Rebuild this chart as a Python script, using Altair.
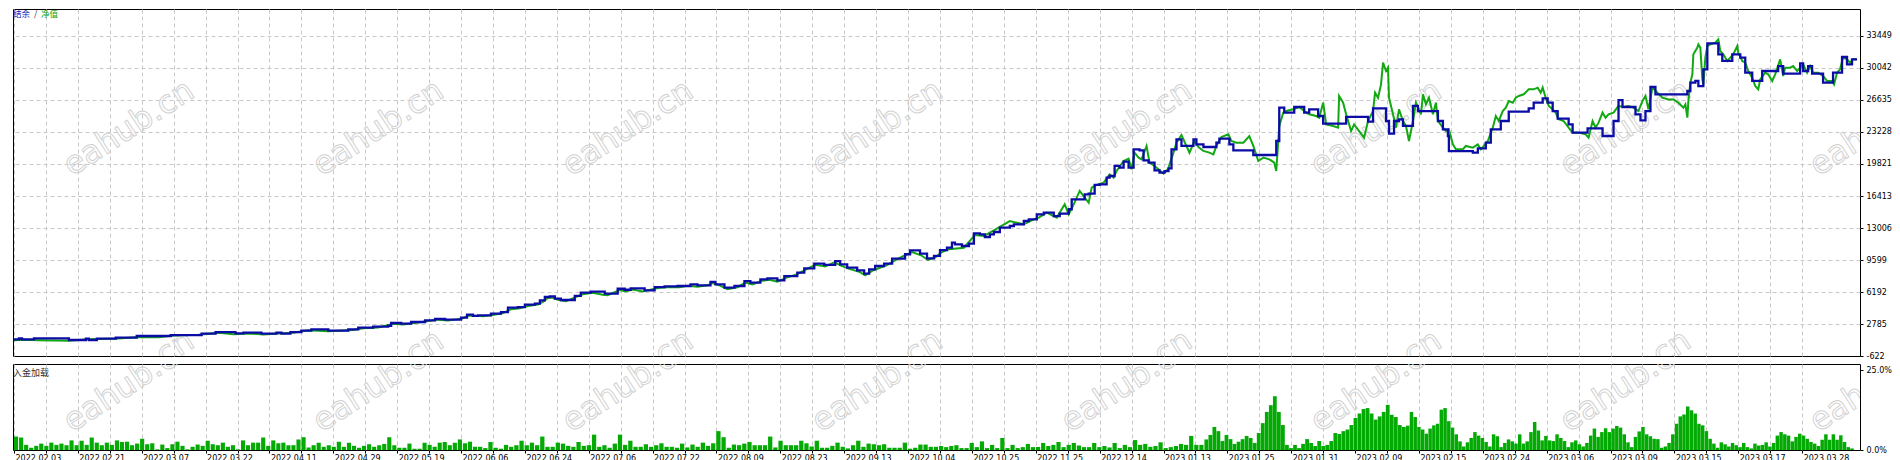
import altair as alt
import pandas as pd

# ---------------- data ----------------
DATE_LABELS = ["2022.02.03", "2022.02.21", "2022.03.07", "2022.03.22", "2022.04.11", "2022.04.29",
               "2022.05.19", "2022.06.06", "2022.06.24", "2022.07.06", "2022.07.22", "2022.08.09",
               "2022.08.23", "2022.09.13", "2022.10.04", "2022.10.25", "2022.11.25", "2022.12.14",
               "2023.01.13", "2023.01.25", "2023.01.31", "2023.02.09", "2023.02.15", "2023.02.24",
               "2023.03.06", "2023.03.09", "2023.03.15", "2023.03.17", "2023.03.28"]
LABEL_STEP = 64          # deals between two date labels
GRID_STEP = 32           # deals between two vertical grid lines
Y_TICKS = [-622, 2785, 6192, 9599, 13006, 16413, 19821, 23228, 26635, 30042, 33449]
LOAD_TICKS = [0, 25]

BAL_DEAL = [0, 5, 8, 20, 55, 72, 75, 83, 102, 123, 157, 188, 202, 222, 230, 248, 263, 268, 277, 288,
            298, 315, 335, 345, 360, 375, 378, 388, 398, 412, 422, 432, 448, 454, 460,
            465, 478, 488, 495, 505, 512, 522, 527, 532, 537, 542, 548, 562, 568, 578, 592, 605, 612, 618, 632,
            642, 652, 665, 678, 685, 698, 703, 712, 722, 732, 738, 748, 755, 765, 772, 785, 792, 802, 812, 823,
            828, 835, 845, 852, 857, 863, 872, 880, 893, 898, 908, 915, 922, 928, 935,
            940, 943, 950, 957, 962, 968, 973, 978, 982, 988, 998, 1002, 1012, 1017, 1025, 1032, 1042, 1048, 1057, 1060,
            1073, 1077, 1083, 1088, 1095, 1098, 1103, 1108, 1112, 1117, 1122, 1128, 1132, 1137, 1143, 1148, 1153, 1157,
            1160, 1165, 1170, 1182, 1185, 1192, 1205, 1208, 1218, 1222, 1242, 1265, 1268, 1273, 1283, 1293, 1298, 1307,
            1312, 1335, 1357, 1362, 1375, 1378, 1383, 1388, 1392,
            1402, 1407, 1427, 1432, 1437, 1438, 1462, 1467, 1475, 1480, 1490, 1498, 1518, 1523, 1532, 1537, 1542, 1547,
            1558, 1562, 1577, 1592, 1603, 1608, 1612, 1625, 1630, 1635, 1640, 1645, 1677, 1680, 1685, 1688, 1693, 1697,
            1708, 1712, 1722, 1730, 1735, 1742, 1752, 1768, 1773, 1790, 1793, 1798, 1802, 1813, 1823, 1832, 1837, 1842, 1847]
BAL_VALUE = [1150, 1260, 1150, 1260, 1080, 1220, 1080, 1220, 1330, 1510, 1610, 1760, 1930, 1790, 1860, 1760, 1860, 1760, 1930, 2075,
             2220, 2075, 2220, 2390, 2500, 2600, 2890, 2820, 3000, 3180, 3320, 3250, 3460, 3780, 3640,
             3710, 3880, 4060, 4520, 4590, 4840, 4950, 5310, 5660, 5730, 5480, 5340, 5770, 6120, 6230, 6010, 6540, 6430, 6580, 6370,
             6720, 6800, 6830, 7010, 6900, 7260, 7010, 6650, 6830, 7360, 7180, 7540, 7650, 7430, 7890, 8250, 8710, 9210, 9070, 9490,
             9140, 8780, 8500, 8140, 8610, 8960, 9210, 9740, 10210, 10630, 10270, 9780, 10030, 10660, 10910,
             11440, 11270, 11090, 11340, 12440, 12330, 12050, 12330, 12580, 13040, 13220, 13400, 13750, 13930, 14460, 14640, 14280, 14530, 15000, 16060,
             16590, 16660, 17590, 17660, 18370, 18540, 19610, 19430, 20070, 19430, 21380, 21270, 20210, 19960, 19150, 18900, 19070, 19360,
             21380, 22450, 21740, 22450, 21920, 21630, 22090, 22520, 21920, 21270, 20780, 22270, 25820, 25290, 25890, 25290, 25640, 24930,
             24110, 24830, 24330, 25750, 24400, 23050, 24400, 24580, 23870,
             26000, 25460, 24400, 23510, 22800, 21200, 21030, 21490, 22090, 23510, 24400, 25390, 25750, 26350, 26810, 26350, 25460, 24650,
             24040, 23160, 23620, 22800, 24400, 26630, 25890, 25110, 24470, 25460, 28020, 27240, 27590, 28480, 28660, 28120, 29900, 32670,
             31500, 30790, 31500, 31140, 29540, 28660, 29720, 30250, 29440, 30540, 29720, 30250, 29440, 28480, 29540, 31210, 30430, 30960, 30960]

EQ_DEAL = [0, 10, 25, 55, 75, 105, 125, 145, 160, 185, 205, 220, 235, 250, 265, 280, 295, 315, 340, 350,
           365, 380, 390, 405, 415, 425, 435, 450, 455, 465,
           470, 480, 490, 498, 507, 515, 525, 530, 535, 540, 545, 553, 563, 570, 580, 590, 595, 607, 613, 620,
           630, 640, 647, 655, 667, 675, 685, 695, 700, 707, 715, 725, 733, 740, 750, 757, 765, 775, 785, 793,
           803, 813, 822, 830, 837, 847, 853, 860, 867, 875, 883, 891, 900, 909, 916, 923, 930, 937,
           952, 963, 972, 982, 998, 1012, 1022, 1027, 1035, 1045, 1053, 1057, 1062, 1068, 1073, 1077, 1080, 1085,
           1092, 1098, 1102, 1105, 1112, 1117, 1120, 1123, 1127, 1130, 1135, 1138, 1143, 1147, 1152, 1157, 1158,
           1162, 1165, 1170, 1175, 1178, 1183, 1187, 1192, 1198, 1202, 1205, 1210, 1217, 1220, 1225, 1232, 1238,
           1242, 1247, 1252, 1258, 1263, 1265, 1267, 1268, 1272, 1275, 1282, 1288, 1293, 1298, 1305, 1308, 1312,
           1315, 1322, 1327, 1328, 1332, 1335, 1340, 1343, 1348, 1353, 1357, 1362, 1364, 1367, 1370, 1372, 1375,
           1377, 1378, 1382, 1385, 1388, 1392, 1395,
           1398, 1402, 1405, 1410, 1412, 1415, 1418, 1422, 1425, 1427, 1432, 1435, 1438, 1442, 1445, 1452, 1455,
           1462, 1467, 1470, 1473, 1477, 1482, 1485, 1488, 1492, 1495, 1498, 1502, 1505, 1508, 1513, 1518, 1523,
           1527, 1530, 1532, 1535, 1538, 1542, 1545, 1548, 1553, 1558, 1562, 1568, 1575, 1578, 1582, 1585, 1588,
           1592, 1595, 1598, 1603, 1608, 1613, 1618, 1623, 1628, 1632, 1635, 1638, 1642, 1647, 1652, 1658, 1663,
           1668, 1673, 1675, 1677, 1678, 1680, 1682, 1683, 1687, 1688, 1690, 1692, 1693, 1695, 1697, 1700, 1705,
           1708, 1710, 1713, 1717, 1720, 1723, 1727, 1728, 1732, 1735, 1738, 1742, 1745, 1748, 1750, 1755, 1758,
           1762, 1765, 1770, 1773, 1775, 1780, 1783, 1787, 1790, 1793, 1797, 1800, 1803, 1808, 1813, 1817, 1822,
           1824, 1827, 1830, 1833, 1837, 1840, 1843, 1847]
EQ_VALUE = [1050, 1100, 1050, 1000, 1150, 1250, 1400, 1380, 1550, 1650, 1850, 1700, 1780, 1680, 1780, 1850, 2130, 2000, 2150, 2330,
            2420, 2800, 2740, 2950, 3100, 3250, 3160, 3380, 3700, 3650,
            3600, 3750, 3950, 4350, 4450, 4700, 4850, 5150, 5550, 5600, 5350, 5200, 5650, 5950, 6100, 5900, 5850, 6400, 6250, 6450,
            6250, 6500, 6650, 6700, 6700, 6850, 6750, 6900, 7150, 6900, 6500, 6700, 7200, 7000, 7400, 7500, 7300, 7750, 8100, 8550,
            9100, 8900, 9350, 8950, 8650, 8350, 7970, 8450, 8750, 9050, 9550, 10000, 10450, 10100, 9600, 9850, 10450, 10750,
            10910, 12260, 12160, 12760, 13750, 13400, 13930, 14110, 14640, 14110, 15530, 14460, 15530, 16950, 16240, 15700, 17300, 17590,
            17830, 18720, 18370, 19080, 20140, 20390, 19250, 21030, 20500, 20320, 21740, 19960, 19610, 19250, 18790, 19360, 19790,
            21030, 22090, 22910, 21740, 21030, 22270, 21630, 21210, 21030, 20850, 21740, 22700, 22980, 22270, 22090, 22090, 22800,
            21740, 20140, 20500, 20320, 19960, 19080, 22270, 23870, 25290, 25460, 25640, 25890, 25460, 25110, 24930, 24750, 26350,
            24040, 23870, 23690, 27060, 26350, 25110, 23330, 24040, 23330, 22620, 24400, 25460, 27420, 26880, 28300, 30610, 29720,
            30080, 26880, 25110, 23690, 25640, 24400, 23870,
            22270, 24400, 26350, 25110, 27240, 26170, 26880, 25110, 26350, 24400, 23690, 23330, 23510, 21910, 21380, 21380, 21740,
            21560, 21910, 21380, 21740, 22270, 23690, 24930, 24400, 25460, 25820, 26530, 26350, 26880, 27060, 27240, 27770, 27770,
            27950, 27410, 27950, 26880, 26000, 25640, 25290, 24580, 24400, 23690, 23160, 23160, 22980, 22620, 24400, 23690, 24220,
            25290, 24750, 25110, 25290, 26000, 25890, 26000, 25820, 25460, 26530, 27060, 25640, 27950, 27410, 26880, 26700, 26700,
            26350, 25820, 26170, 24750, 26530, 28480, 29370, 31500, 32210, 32560, 32210, 28830, 28300, 31140, 32380, 32560, 32740,
            33090, 31850, 31500, 30790, 31140, 31500, 32380, 31670, 30790, 30610, 29720, 29010, 28120, 27770, 28830, 29540, 29370,
            28660, 29370, 30960, 29190, 30080, 30080, 30250, 29720, 30080, 30430, 29540, 30250, 29540, 29540, 29190, 28660, 28660,
            28300, 29540, 29900, 31140, 30960, 30610, 30960, 30960]

# deposit load (%) per bar, grouped by stretches of the deal axis
LOAD_SEGMENTS = [
    (0, 465, [4.2, 3.9, 1.6, 0.7, 1.3, 2.0, 1.3, 2.3, 1.6, 2.0, 1.5, 3.0, 1.5, 2.9, 1.6, 3.9, 2.3, 1.5, 2.3, 1.6,
              3.0, 2.5, 2.6, 1.5, 2.0, 3.5, 1.8, 2.1, 0.2, 1.7, 0.6, 1.8, 2.6, 1.3, 0.2, 1.0, 1.7, 1.3, 2.9, 1.8,
              1.5, 2.3, 1.0, 1.5, 0.2, 3.0, 1.5, 2.3, 2.3, 3.9, 1.3, 3.0, 2.1, 2.3, 1.5, 1.5, 3.3, 4.0, 0.8, 1.5,
              2.3, 1.0, 1.5, 1.0, 2.6, 1.0, 2.3, 1.3, 0.7, 1.3, 1.8, 1.0, 1.5, 1.9, 4.0, 1.5, 0.7, 0.7, 2.0, 0.4,
              0.4, 2.3, 1.6, 1.0, 2.3, 2.5, 1.5, 2.3, 3.3, 2.1, 2.6, 1.0]),
    (465, 927, [1.0, 0.6, 2.5, 0.7, 0.4, 1.6, 1.0, 1.5, 2.9, 1.5, 2.3, 1.5, 4.2, 1.0, 1.0, 2.3, 2.0, 1.3, 1.0, 2.5,
                1.3, 1.5, 4.8, 1.0, 1.5, 0.7, 2.0, 4.8, 1.6, 2.9, 1.0, 1.0, 1.8, 1.0, 1.5, 2.1, 1.0, 1.0, 0.7, 2.0,
                0.8, 1.7, 1.0, 2.3, 1.3, 2.1, 5.9, 4.0, 0.7, 1.7, 1.5, 2.0, 2.5, 1.5, 1.5, 1.5, 4.2, 0.8, 2.9, 1.5,
                1.5, 1.5, 2.9, 2.1, 1.1, 2.9, 0.7, 0.7, 1.3, 2.3, 1.0, 0.5, 1.5, 2.9, 1.0, 2.0, 1.8, 1.5, 1.8, 0.7,
                0.7, 0.7, 2.3, 0.4, 0.7, 1.7, 1.7, 1.0, 1.0]),
    (927, 1193, [1.25, 0.9, 1.25, 1.5, 0.6, 0.6, 2.2, 0.9, 2.7, 0.6, 1.6, 0.6, 3.75, 0.6, 1.6, 0.6, 0.9, 1.9, 0.9, 0.9,
                 2.2, 1.25, 1.6, 2.5, 0.9, 1.6, 2.2, 1.4, 0.9, 0.9, 2.2, 0.9, 1.25, 0.8, 2.2, 0.6, 1.6, 0.9, 3.1, 1.6,
                 1.9, 1.0, 1.25, 2.4, 0.6, 0.9, 1.25, 1.9, 1.6, 4.4, 1.6, 1.6]),
    (1193, 1395, [3.3, 4.7, 7.2, 5.9, 2.8, 4.7, 3.4, 1.9, 2.6, 3.4, 4.4, 3.75, 2.2, 5.3, 8.4, 11.9, 14.0, 16.8, 11.9, 7.8,
                  1.6, 0.6, 1.6, 0.6, 1.9, 3.4, 2.2, 1.25, 2.8, 1.25, 1.6, 2.8, 5.3, 5.0, 5.9, 6.4, 7.8, 10.0, 11.4, 12.8,
                  13.1, 11.4, 9.5, 10.5, 11.9, 14.1, 11.0, 10.3, 7.8, 7.2]),
    (1395, 1844, [7.6, 11.9, 10.3, 7.2, 6.4, 5.1, 6.7, 7.7, 8.2, 12.6, 13.1, 9.0, 7.0, 4.9, 2.7, 1.1, 2.4, 3.75,
                  5.6, 4.5, 3.75, 2.5, 1.1, 4.9, 4.3, 0.9, 2.2, 3.3, 2.7, 2.0, 4.9, 2.0, 2.7, 5.6, 8.75, 6.1, 3.0, 4.4,
                  3.0, 2.8, 4.9, 3.75, 2.8, 0.9, 2.4, 3.0, 1.8, 1.1, 2.2, 4.5, 6.7, 4.1, 5.6, 6.8, 5.6, 6.7, 7.5, 7.0,
                  4.9, 2.4, 0.9, 4.1, 5.8, 7.2, 4.9, 4.3, 3.5, 3.4, 0.7, 1.1, 2.2, 4.9, 8.2, 10.5, 11.1, 13.6, 12.4, 11.4,
                  8.2, 7.7, 5.9, 3.5, 2.0, 0.7, 2.4, 1.8, 1.1, 2.2, 1.5, 0.9, 2.2, 0.9, 0.5, 2.0, 1.4, 1.6, 2.4, 1.1,
                  2.2, 4.5, 5.6, 4.9, 4.5, 2.7, 4.1, 5.1, 4.5, 3.5, 2.5, 2.0, 1.25, 3.2, 4.9, 3.2, 4.9, 3.2, 4.6, 2.5,
                  0.9, 0.5]),
]

WATERMARK = "eahub.cn"
WM_DEALS = [115, 365, 615, 865, 1115, 1365, 1615, 1865]
WM_VALUES = [23650, -2960]      # two rows, in balance units
WM_LOAD_LEVEL = 20.6            # the lower row, in load units

# ---------------- frames ----------------
bal_df = pd.DataFrame({"deal": BAL_DEAL, "value": BAL_VALUE})
eq_df = pd.DataFrame({"deal": EQ_DEAL, "value": EQ_VALUE})

rows = []
for start, end, vals in LOAD_SEGMENTS:
    w = (end - start) / len(vals)
    gap = 0.9 if w > 4.5 else 0.25
    for i, v in enumerate(vals):
        rows.append({"x0": start + i * w, "x1": start + (i + 1) * w - gap, "pct": v, "base": 0.0})
load_df = pd.DataFrame(rows)

wm_df = pd.DataFrame([{"deal": d, "value": v, "t": WATERMARK} for v in WM_VALUES for d in WM_DEALS])
wm_low_df = pd.DataFrame([{"x0": d, "pct": WM_LOAD_LEVEL, "t": WATERMARK} for d in WM_DEALS])

n_grid = (LABEL_STEP * (len(DATE_LABELS) - 1)) // GRID_STEP + 1
GRID_X = [GRID_STEP * k for k in range(n_grid)]
labels_js = "[" + ",".join("'" + d + "'" for d in DATE_LABELS) + "]"
x_label_expr = f"datum.value % {LABEL_STEP} == 0 ? {labels_js}[datum.value / {LABEL_STEP}] : ''"

# ---------------- scales / axes ----------------
W = 1847
H_TOP = 347
H_LOW = 86
FONT = "DejaVu Sans"
CJK = "Noto Sans CJK SC"
GRID_COLOR = "#c8c8c8"
DASH = [4, 3]

xscale = alt.Scale(domain=[-1, 1850], nice=False, zero=False)
yscale = alt.Scale(domain=[-622, 36323], nice=False, zero=False)
lscale = alt.Scale(domain=[0, 26.875], nice=False, zero=True)

x_axis_top = alt.Axis(values=GRID_X, grid=True, labels=False, ticks=False, domain=False, title=None,
                      gridColor=GRID_COLOR, gridDash=DASH)
y_axis_top = alt.Axis(orient="right", values=Y_TICKS, labelExpr="'' + datum.value", grid=True,
                      gridColor=GRID_COLOR, gridDash=DASH,
                      gridOpacity={"condition": {"test": f"datum.value == {Y_TICKS[0]}", "value": 0}, "value": 1},
                      domain=False, title=None,
                      tickSize=3, tickColor="black", labelPadding=3, labelAlign="left",
                      labelBaseline="middle", labelFont=FONT, labelFontSize=8, labelColor="black",
                      labelOverlap=False)
x_axis_low = alt.Axis(values=GRID_X, grid=True, gridColor=GRID_COLOR, gridDash=DASH, domain=False,
                      title=None, ticks=True, tickSize=3, tickColor="black", labelExpr=x_label_expr,
                      labelAlign="left", labelBaseline="top", labelPadding=1, labelOffset=1,
                      labelFont=FONT, labelFontSize=8, labelColor="black", labelOverlap=False,
                      labelFlush=False)
y_axis_low = alt.Axis(orient="right", values=LOAD_TICKS, labelExpr="format(datum.value, '.1f') + '%'",
                      grid=False, domain=False, title=None, tickSize=3, tickColor="black",
                      labelPadding=3, labelAlign="left", labelBaseline="middle", labelFont=FONT,
                      labelFontSize=8, labelColor="black", labelOverlap=False)

X = alt.X("deal:Q", scale=xscale, axis=x_axis_top)
Y = alt.Y("value:Q", scale=yscale, axis=y_axis_top)
XL = alt.X("x0:Q", scale=xscale, axis=x_axis_low)
YL = alt.Y("pct:Q", scale=lscale, axis=y_axis_low)

wm_style = dict(font=FONT, fontSize=32, angle=327, align="center", baseline="middle",
                fillOpacity=0, stroke="#d2d2d2", strokeWidth=1, clip=True)

watermarks = alt.Chart(wm_df).mark_text(**wm_style).encode(x=X, y=Y, text="t:N")
watermarks_low = alt.Chart(wm_low_df).mark_text(**wm_style).encode(x=XL, y=YL, text="t:N")

equity = alt.Chart(eq_df).mark_line(color="#12a812", strokeWidth=2).encode(x=X, y=Y)
balance = alt.Chart(bal_df).mark_line(color="#0b0ba6", strokeWidth=2.3, interpolate="step-after").encode(x=X, y=Y)


def tag(text, color, x, y, size):
    return alt.Chart(pd.DataFrame({"t": [text]})).mark_text(
        align="left", baseline="middle", font=CJK, fontSize=size, color=color
    ).encode(x=alt.value(x), y=alt.value(y), text="t:N")


upper = alt.layer(
    watermarks, equity, balance,
    tag("结余", "#1010c0", 0, 5, 8.5),
    tag("/", "#333333", 21, 5, 8.5),
    tag("净值", "#10a010", 28, 5, 8.5),
).properties(width=W, height=H_TOP)

bars = alt.Chart(load_df).mark_bar(color="#04aa04").encode(x=XL, x2="x1:Q", y=YL, y2="base:Q")

lower = alt.layer(watermarks_low, bars, tag("入金加载", "#333333", 0, 9, 9)).properties(width=W, height=H_LOW)

chart = alt.vconcat(upper, lower, spacing=2).properties(
    padding=0, background="white"
).configure_view(stroke="black", strokeWidth=1)

chart.save("out.html", embed_options={"renderer": "svg", "actions": False})
